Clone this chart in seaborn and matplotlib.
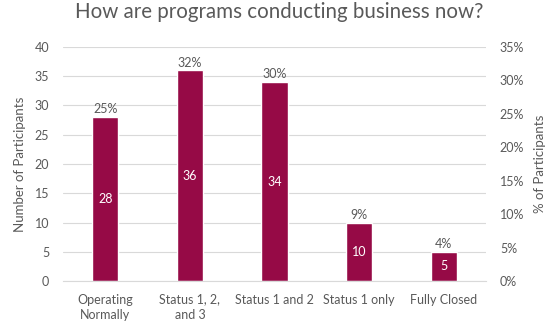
import matplotlib
matplotlib.use("Agg")
import matplotlib.pyplot as plt
import seaborn as sns
import pandas as pd

categories = ["Operating\nNormally", "Status 1, 2,\nand 3", "Status 1 and 2", "Status 1 only", "Fully Closed"]
counts = [28, 36, 34, 10, 5]
percent_labels = ["25%", "32%", "30%", "9%", "4%"]
left_ticks = [0, 5, 10, 15, 20, 25, 30, 35, 40]
right_ticks = [0, 5, 10, 15, 20, 25, 30, 35]

sns.set_style("white")
plt.rcParams["font.family"] = ["Lato", "DejaVu Sans"]

TXT = "#595959"
BAR = "#960A46"

df = pd.DataFrame({"cat": categories, "n": counts})

fig = plt.figure(figsize=(5.58, 3.28), dpi=100)
ax = fig.add_axes([63/558, 1 - 281/328, (486-63)/558, (281-47)/328])
sns.barplot(data=df, x="cat", y="n", color=BAR, width=0.31, saturation=1, ax=ax)

ax.set_ylim(0, 40)
ax.set_yticks(left_ticks)
ax.set_yticklabels([str(t) for t in left_ticks])
ax.yaxis.grid(True, color="#d9d9d9", linewidth=0.8)
ax.set_axisbelow(True)
for s in ["top", "right", "left"]:
    ax.spines[s].set_visible(False)
ax.spines["bottom"].set_color("#d9d9d9")
ax.tick_params(axis="both", length=0, colors=TXT, labelsize=9)
ax.tick_params(axis="y", pad=10)
ax.tick_params(axis="x", pad=9)
for lbl in ax.get_xticklabels():
    lbl.set_linespacing(1.35)
ax.set_xlabel("")
ax.set_ylabel("Number of Participants", color=TXT, fontsize=9.5, labelpad=6)
ax.set_xlim(-0.5, len(categories) - 0.5)

for i, (c, p) in enumerate(zip(counts, percent_labels)):
    ax.text(i, c / 2, str(c), ha="center", va="center", color="white", fontsize=9)
    ax.text(i, c + 0.3, p, ha="center", va="bottom", color=TXT, fontsize=9)

ax2 = ax.twinx()
ax2.set_ylim(0, 35)
ax2.set_yticks(right_ticks)
ax2.set_yticklabels([f"{t}%" for t in right_ticks])
for s in ax2.spines.values():
    s.set_visible(False)
ax2.tick_params(axis="y", length=0, colors=TXT, labelsize=9, pad=10)
ax2.set_ylabel("% of Participants", color=TXT, fontsize=9.5, labelpad=7)

fig.suptitle("How are programs conducting business now?", color=TXT, fontsize=14.8, y=0.995)

fig.savefig("out.png", dpi=100)
